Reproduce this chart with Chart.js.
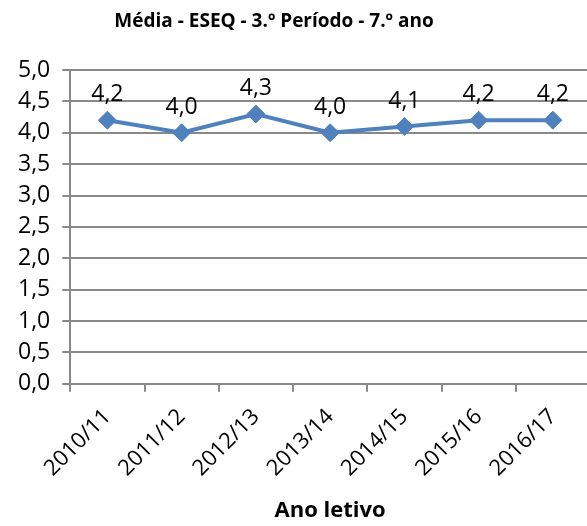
<!DOCTYPE html>
<html><head><meta charset="utf-8">
<script src="https://cdn.jsdelivr.net/npm/chart.js@4"></script>
<style>html,body{margin:0;padding:0;background:#fff;overflow:hidden}#w{width:600px;height:526px}</style>
</head><body><div id="w"><canvas id="c"></canvas></div>
<script>
const titleText = 'Média - ESEQ - 3.º Período - 7.º ano';
const categories = ["2010/11","2011/12","2012/13","2013/14","2014/15","2015/16","2016/17"];
const media = [4.2, 4.0, 4.3, 4.0, 4.1, 4.2, 4.2];
const yTicks = [0,0.5,1,1.5,2,2.5,3,3.5,4,4.5,5];
const fmt = v => v.toFixed(1).replace('.', ',');
const FONT = "'Open Sans', 'Noto Sans', sans-serif";

const labelPlugin = {
  id: 'labels',
  afterDatasetsDraw(chart) {
    const ctx = chart.ctx;
    const meta = chart.getDatasetMeta(0);
    ctx.save();
    ctx.font = "23px " + FONT;
    ctx.fillStyle = '#000';
    ctx.textAlign = 'center';
    ctx.textBaseline = 'bottom';
    meta.data.forEach((p, i) => {
      ctx.fillText(fmt(media[i]), p.x, p.y - 14);
    });
    ctx.restore();
  },
  afterDraw(chart) {
    const ctx = chart.ctx;
    ctx.save();
    ctx.font = "bold 19px " + FONT;
    ctx.fillStyle = '#000';
    ctx.textAlign = 'center';
    ctx.textBaseline = 'middle';
    ctx.fillText(titleText, 274, 22);
    ctx.restore();
  }
};

new Chart(document.getElementById('c'), {
  type: 'line',
  data: {
    labels: categories,
    datasets: [{
      data: media,
      borderColor: '#4F81BD',
      backgroundColor: '#4F81BD',
      borderWidth: 4,
      pointStyle: 'rectRot',
      pointRadius: 9,
      pointHoverRadius: 9,
      pointBorderWidth: 1,
      tension: 0,
      fill: false
    }]
  },
  options: {
    responsive: true,
    maintainAspectRatio: false,
    animation: false,
    layout: { padding: { left: 6, right: 0, top: 70, bottom: 2 } },
    plugins: {
      legend: { display: false },
      tooltip: { enabled: false },
      title: { display: false }
    },
    scales: {
      x: {
        offset: true,
        grid: { display: true, drawOnChartArea: false, drawTicks: true, tickLength: 8, color: '#898989', lineWidth: 2, offset: true },
        border: { color: '#898989', width: 2 },
        ticks: { color: '#000', font: { family: FONT, size: 22 }, maxRotation: 45, minRotation: 45, padding: 12, autoSkip: false },
        title: { display: true, text: 'Ano letivo', color: '#000', font: { family: FONT, size: 22, weight: 'bold' }, padding: { top: 4, bottom: 0 } }
      },
      y: {
        min: 0, max: 5,
        afterBuildTicks(axis) { axis.ticks = yTicks.map(v => ({ value: v })); },
        grid: { color: '#898989', lineWidth: 2, tickLength: 8 },
        border: { color: '#898989', width: 2 },
        ticks: { color: '#000', font: { family: FONT, size: 23 }, padding: 12, autoSkip: false, callback: v => fmt(v) }
      }
    }
  },
  plugins: [labelPlugin]
});
</script></body></html>
